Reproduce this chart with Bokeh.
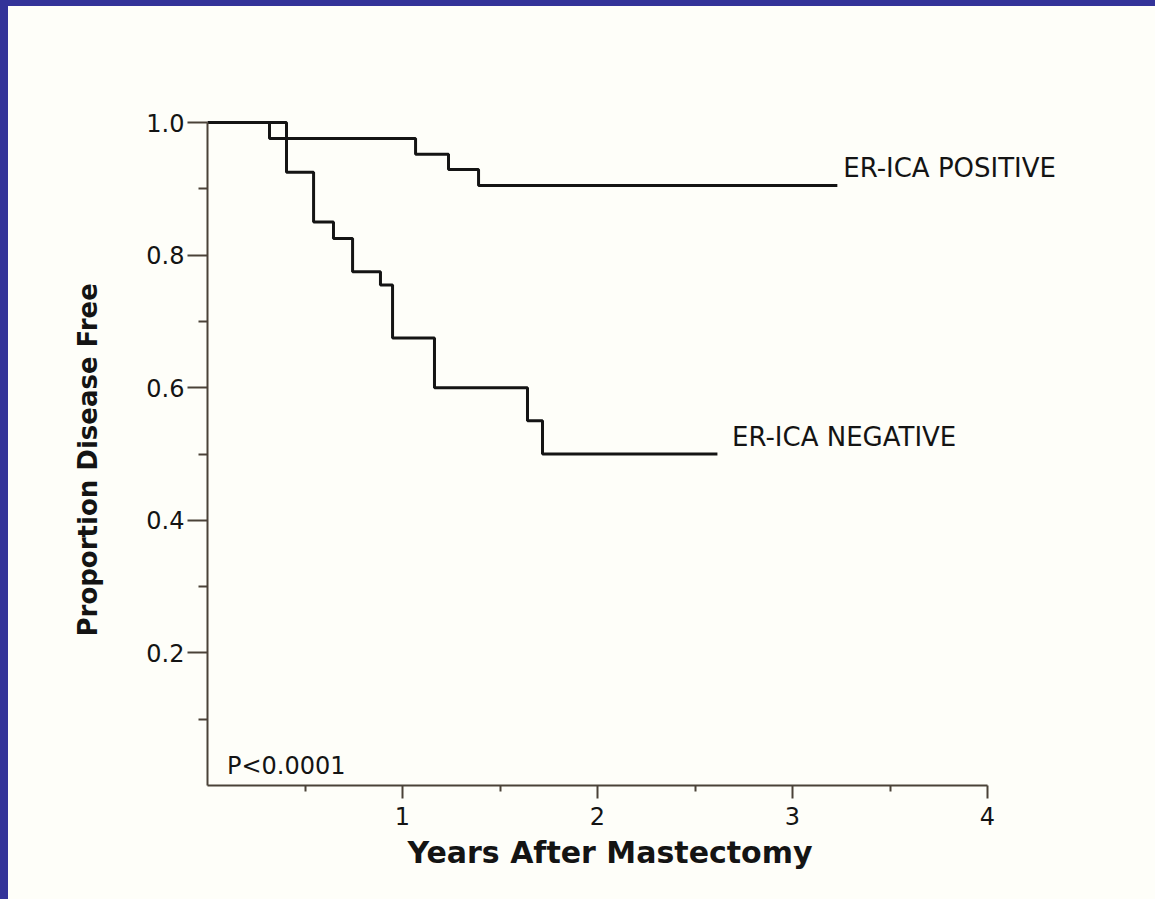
from bokeh.plotting import figure
from bokeh.models import Range1d, FixedTicker, Title
from bokeh.layouts import column
from bokeh.core.properties import value
from bokeh.embed import file_html
from bokeh.resources import INLINE

# ---- data ----
pos_years = [0.0, 0.318, 1.067, 1.236, 1.39, 3.23]
pos_free = [1.0, 0.976, 0.952, 0.929, 0.905, 0.905]

neg_years = [0.0, 0.405, 0.544, 0.646, 0.744, 0.887, 0.949, 1.164, 1.641, 1.718, 2.615]
neg_free = [1.0, 0.925, 0.85, 0.825, 0.775, 0.755, 0.675, 0.60, 0.55, 0.50, 0.50]

y_ticks = [0.2, 0.4, 0.6, 0.8, 1.0]
y_tick_labels = ["0.2", "0.4", "0.6", "0.8", "1.0"]
y_minor = [0.1, 0.3, 0.5, 0.7, 0.9]
x_ticks = [1, 2, 3, 4]
x_tick_labels = ["1", "2", "3", "4"]
x_minor = [0.5, 1.5, 2.5, 3.5]

series_labels = ["ER-ICA POSITIVE", "ER-ICA NEGATIVE"]
p_value_text = "P<0.0001"
x_title = "Years After Mastectomy"
y_title = "Proportion Disease Free"

PAPER = "#fefef9"
BLUE = "#333399"
INK = "#141414"
AXIS = "#4a4238"
FONT = "DejaVu Sans"

W, H = 1147, 893
LEFT, RIGHT, TOP, BOTTOM = 199, 0, 0, 114
PX_PER_YEAR = 195.0
PX_PER_UNIT = 663.0

p = figure(width=W, height=H, output_backend="svg", toolbar_location=None,
           x_range=Range1d(0, (W - LEFT - RIGHT) / PX_PER_YEAR),
           y_range=Range1d(0, (H - TOP - BOTTOM) / PX_PER_UNIT),
           min_border_left=LEFT, min_border_right=RIGHT,
           min_border_top=TOP, min_border_bottom=BOTTOM)
p.background_fill_color = PAPER
p.border_fill_color = PAPER
p.outline_line_color = None
p.grid.visible = False

# axes
xa = p.xaxis[0]
xa.bounds = (0, 4)
xa.ticker = FixedTicker(ticks=x_ticks, minor_ticks=x_minor)
xa.major_label_overrides = {t: s for t, s in zip(x_ticks, x_tick_labels)}
xa.axis_line_color = AXIS
xa.axis_line_width = 2
xa.major_tick_line_color = AXIS
xa.major_tick_line_width = 2
xa.major_tick_in = 0
xa.major_tick_out = 13
xa.minor_tick_line_color = AXIS
xa.minor_tick_line_width = 2
xa.minor_tick_in = 0
xa.minor_tick_out = 6
xa.major_label_text_font = FONT
xa.major_label_text_font_size = "24px"
xa.major_label_text_color = INK
xa.major_label_standoff = 8

ya = p.yaxis[0]
ya.bounds = (0, 1)
ya.ticker = FixedTicker(ticks=y_ticks, minor_ticks=y_minor)
ya.major_label_overrides = {t: s for t, s in zip(y_ticks, y_tick_labels)}
ya.axis_line_color = AXIS
ya.axis_line_width = 2
ya.major_tick_line_color = AXIS
ya.major_tick_line_width = 2
ya.major_tick_in = 0
ya.major_tick_out = 20
ya.minor_tick_line_color = AXIS
ya.minor_tick_line_width = 2
ya.minor_tick_in = 0
ya.minor_tick_out = 9
ya.major_label_text_font = FONT
ya.major_label_text_font_size = "24px"
ya.major_label_text_color = INK
ya.major_label_standoff = 3

# axis titles, positioned like the original (centred on the drawn axes)
p.add_layout(Title(text=x_title, align="left", offset=200, standoff=10,
                   text_font=FONT, text_font_style="bold", text_font_size="30px",
                   text_color=INK), "below")
p.add_layout(Title(text=y_title, align="left", offset=149, standoff=82,
                   text_font=FONT, text_font_style="bold", text_font_size="26px",
                   text_color=INK), "left")

# survival curves
p.step(pos_years, pos_free, mode="after", line_color=INK, line_width=3)
p.step(neg_years, neg_free, mode="after", line_color=INK, line_width=3)

# annotations
p.text(x=[3.26, 2.69], y=[0.932, 0.525], text=series_labels,
       text_font=value(FONT), text_font_size="26px", text_color=INK,
       text_align="left", text_baseline="middle")
p.text(x=[0.10], y=[0.029], text=[p_value_text],
       text_font=value(FONT), text_font_size="24px", text_color=INK,
       text_align="left", text_baseline="middle")

paper = column(p, styles={"background-color": PAPER})
paper.margin = (6, 0, 0, 8)
layout = column(paper, styles={"background-color": BLUE})

open("out.html", "w").write(file_html(layout, INLINE))
